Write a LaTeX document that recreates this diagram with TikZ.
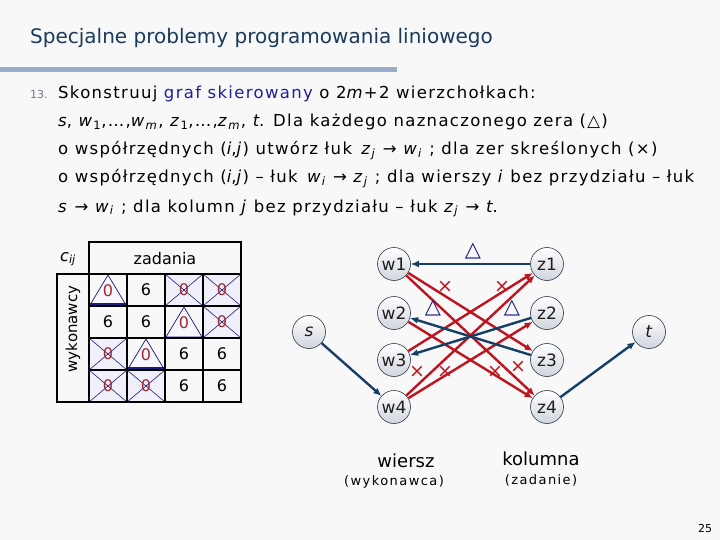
\documentclass[tikz,border=0pt]{standalone}
\usepackage{fontspec}
\setmainfont{DejaVu Sans}
\newfontfamily\spaced[LetterSpace=8]{DejaVu Sans}
\newfontfamily\spacedb[LetterSpace=11]{DejaVu Sans}
\usetikzlibrary{arrows.meta}
\definecolor{bgc}{HTML}{F8F8F8}
\definecolor{titlec}{HTML}{1B3A5C}
\definecolor{barc}{HTML}{97AECB}
\definecolor{linkc}{HTML}{1F1F99}
\definecolor{edgeb}{HTML}{173F66}
\definecolor{edger}{HTML}{BE1420}
\definecolor{navy}{HTML}{1A1A80}
\definecolor{zeroc}{HTML}{A02830}
\definecolor{numc}{HTML}{6B7B8C}
\definecolor{circd}{HTML}{2A3A4A}
\definecolor{circb}{HTML}{D0D4DC}
\definecolor{nodet}{HTML}{1E1E1E}
\definecolor{crossf}{HTML}{F0F0FA}
\definecolor{trif}{HTML}{F6F6FC}
\newcommand{\fs}[1]{\fontsize{#1}{#1}\selectfont}
\newcommand{\ii}[1]{\textit{#1}}
\newcommand{\sbs}[1]{\textsubscript{#1}}
\begin{document}
\begin{tikzpicture}[x=1pt,y=-1pt,
  vert/.style={circle,draw=circd,line width=0.6pt,minimum size=33pt,inner sep=0pt,
    top color=white,bottom color=circb,font=\fs{17},text=nodet},
  bedge/.style={draw=edgeb,line width=2.4pt,-{Latex[length=8pt,width=7pt]}},
  redge/.style={draw=edger,line width=2.4pt,-{Latex[length=8pt,width=7pt]}},
  tri/.style={text=navy,font=\fs{21}},
  crs/.style={text=edger,font=\fs{19}},
  body/.style={anchor=base west,font=\spaced\fs{16.5},inner sep=0pt},
  cellv/.style={font=\fs{16}},
  tline/.style={line width=2.4pt,black},
]
\useasboundingbox[fill=bgc] (0,0) rectangle (720,540);
% title
\node[anchor=west,inner sep=0pt,text=titlec,font=\fs{20}] (title) at (30,38) {Specjalne problemy programowania liniowego};
\fill[barc] (0,67) rectangle (397,72);
% body text
\node[anchor=base west,inner sep=0pt,text=numc,font=\fs{11}] (num) at (30,99) {13.};
\node[body] (l1) at (58,99) {Skonstruuj \textcolor{linkc}{graf skierowany} o 2\ii{m}+2 wierzchołkach:};
\node[body] (l2) at (58,127) {\ii{s}, \ii{w}\sbs{1},…,\ii{w}\sbs{\ii{m}}, \ii{z}\sbs{1},…,\ii{z}\sbs{\ii{m}}, \ii{t}. Dla każdego naznaczonego zera (△)};
\node[body] (l3) at (58,155) {o współrzędnych (\ii{i},\ii{j}) utwórz łuk\, \ii{z}\sbs{\ii{j}} → \ii{w}\sbs{\ii{i}} ; dla zer skreślonych (×)};
\node[body] (l4) at (58,183) {o współrzędnych (\ii{i},\ii{j}) – łuk\, \ii{w}\sbs{\ii{i}} → \ii{z}\sbs{\ii{j}} ; dla wierszy \ii{i} bez przydziału – łuk};
\node[body] (l5) at (58,212) {\ii{s} → \ii{w}\sbs{\ii{i}} ; dla kolumn \ii{j} bez przydziału – łuk \ii{z}\sbs{\ii{j}} → \ii{t}.};
% table
% crossed cells fill
\foreach \c/\r in {3/1,4/1,4/2,1/3,1/4,2/4}{
  \pgfmathsetmacro{\xa}{89+38*(\c-1)}\pgfmathsetmacro{\ya}{274+32*(\r-1)}
  \fill[crossf] (\xa,\ya) rectangle ++(38,32);
  \draw[navy,line width=0.6pt] (\xa,\ya) -- ++(38,32) (\xa+38,\ya) -- ++(-38,32);
  \node[cellv,text=zeroc] (x\c\r) at (\xa+19,\ya+16) {0};
}
% triangle cells
\foreach \c/\r in {1/1,3/2,2/3}{
  \pgfmathsetmacro{\xa}{89+38*(\c-1)}\pgfmathsetmacro{\ya}{274+32*(\r-1)}
  \filldraw[fill=trif,draw=navy,line width=0.7pt] (\xa+1,\ya+31) -- (\xa+19,\ya+1) -- (\xa+37,\ya+31) -- cycle;
  \node[cellv,text=zeroc] (a\c\r) at (\xa+19,\ya+17) {0};
}
\draw[navy,line width=3pt] (90,304) -- (126,304);
\draw[navy,line width=3pt] (128,368) -- (164,368);
% sixes
\foreach \c/\r in {2/1,1/2,2/2,3/3,4/3,3/4,4/4}{
  \pgfmathsetmacro{\xa}{89+38*(\c-1)}\pgfmathsetmacro{\ya}{274+32*(\r-1)}
  \node[cellv] (s\c\r) at (\xa+19,\ya+16) {6};
}
% grid
\draw[tline] (89,242) rectangle (241,402);
\draw[tline] (57,274) rectangle (89,402);
\foreach \y in {274,306,338,370} \draw[tline] (89,\y) -- (241,\y);
\foreach \x in {127,165,203} \draw[tline] (\x,274) -- (\x,402);
\node[font=\fs{16}] (zad) at (165,259) {zadania};
\node[font=\fs{15},rotate=90] (wyk) at (73,329) {wykonawcy};
\node[font=\fs{16}] (cij) at (68,259) {\ii{c}\sbs{\ii{ij}}};
% graph nodes
\node[vert] (s) at (309,332) {\ii{s}};
\node[vert] (w1) at (394,264) {w1};
\node[vert] (w2) at (394,313) {w2};
\node[vert] (w3) at (394,360) {w3};
\node[vert] (w4) at (394,407) {w4};
\node[vert] (z1) at (547,264) {z1};
\node[vert] (z2) at (547,313) {z2};
\node[vert] (z3) at (547,360) {z3};
\node[vert] (z4) at (547,407) {z4};
\node[vert] (t) at (649,332) {\ii{t}};
% edges
\draw[redge] (w1) -- (z3);
\draw[redge] (w1) -- (z4);
\draw[redge] (w2) -- (z4);
\draw[redge] (w3) -- (z1);
\draw[redge] (w4) -- (z1);
\draw[redge] (w4) -- (z2);
\draw[bedge] (z1) -- (w1);
\draw[bedge] (z3) -- (w2);
\draw[bedge] (z2) -- (w3);
\draw[bedge] (s) -- (w4);
\draw[bedge] (z4) -- (t);
% marks
\node[tri] (t1) at (473,251) {△};
\node[tri] (t2) at (433,308) {△};
\node[tri] (t3) at (512,308) {△};
\node[crs] (c1) at (445,287) {×};
\node[crs] (c2) at (502,287) {×};
\node[crs] (c3) at (417,372) {×};
\node[crs] (c4) at (445,372) {×};
\node[crs] (c5) at (495,372) {×};
\node[crs] (c6) at (518,367) {×};
% bottom labels
\node[font=\fs{18}] (wi) at (406,461) {wiersz};
\node[font=\spacedb\fs{13}] (wk) at (394,482) {(wykonawca)};
\node[font=\fs{18}] (ko) at (541,459) {kolumna};
\node[font=\spacedb\fs{13}] (zd) at (541,480) {(zadanie)};
\node[font=\fs{11}] (pg) at (705,528) {25};
\end{tikzpicture}
\end{document}
